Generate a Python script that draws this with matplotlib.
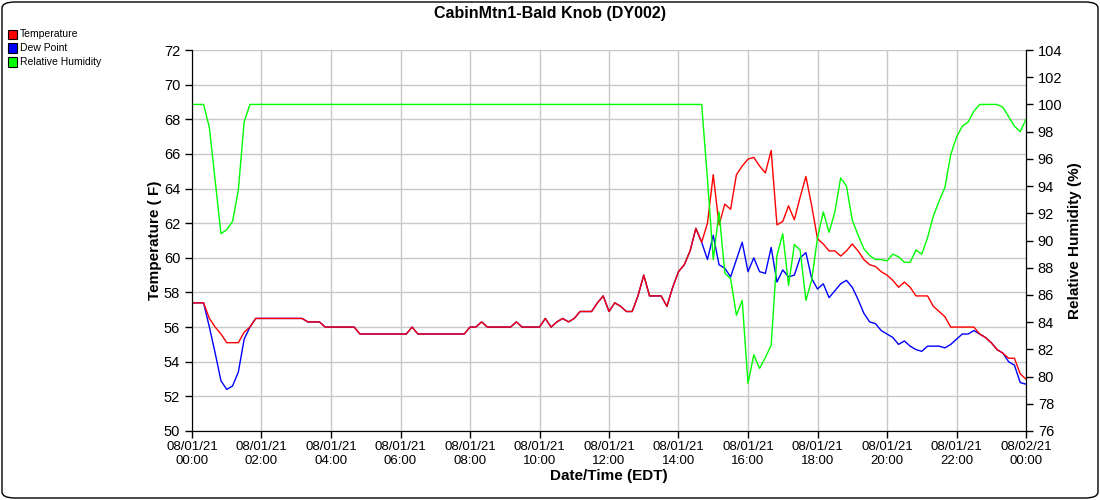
import pandas as pd
import numpy as np
import matplotlib
matplotlib.use("Agg")
import matplotlib.pyplot as plt
import matplotlib.dates as mdates
from matplotlib.patches import FancyBboxPatch, Rectangle

plt.rcParams['font.family'] = ['Liberation Sans', 'DejaVu Sans']

# 10-minute readings, 08/01/21 00:00 -> 08/02/21 00:00 (one row per hour)
times = pd.date_range('2021-08-01 00:00', '2021-08-02 00:00', freq='10min')

temperature = [
    57.4, 57.4, 57.4, 56.5, 56.0, 55.6,
    55.1, 55.1, 55.1, 55.7, 56.0, 56.5,
    56.5, 56.5, 56.5, 56.5, 56.5, 56.5,
    56.5, 56.5, 56.3, 56.3, 56.3, 56.0,
    56.0, 56.0, 56.0, 56.0, 56.0, 55.6,
    55.6, 55.6, 55.6, 55.6, 55.6, 55.6,
    55.6, 55.6, 56.0, 55.6, 55.6, 55.6,
    55.6, 55.6, 55.6, 55.6, 55.6, 55.6,
    56.0, 56.0, 56.3, 56.0, 56.0, 56.0,
    56.0, 56.0, 56.3, 56.0, 56.0, 56.0,
    56.0, 56.5, 56.0, 56.3, 56.5, 56.3,
    56.5, 56.9, 56.9, 56.9, 57.4, 57.8,
    56.9, 57.4, 57.2, 56.9, 56.9, 57.8,
    59.0, 57.8, 57.8, 57.8, 57.2, 58.3,
    59.2, 59.6, 60.4, 61.7, 60.9, 62.0,
    64.8, 61.9, 63.1, 62.8, 64.8, 65.3,
    65.7, 65.8, 65.3, 64.9, 66.2, 61.9,
    62.1, 63.0, 62.2, 63.5, 64.7, 63.0,
    61.1, 60.8, 60.4, 60.4, 60.1, 60.4,
    60.8, 60.4, 59.9, 59.6, 59.5, 59.2,
    59.0, 58.7, 58.3, 58.6, 58.3, 57.8,
    57.8, 57.8, 57.2, 56.9, 56.6, 56.0,
    56.0, 56.0, 56.0, 56.0, 55.6, 55.4,
    55.1, 54.7, 54.5, 54.2, 54.2, 53.3,
    53.0,
]

dew_point = [
    57.4, 57.4, 57.4, 56.0, 54.5, 52.9,
    52.4, 52.6, 53.4, 55.3, 56.0, 56.5,
    56.5, 56.5, 56.5, 56.5, 56.5, 56.5,
    56.5, 56.5, 56.3, 56.3, 56.3, 56.0,
    56.0, 56.0, 56.0, 56.0, 56.0, 55.6,
    55.6, 55.6, 55.6, 55.6, 55.6, 55.6,
    55.6, 55.6, 56.0, 55.6, 55.6, 55.6,
    55.6, 55.6, 55.6, 55.6, 55.6, 55.6,
    56.0, 56.0, 56.3, 56.0, 56.0, 56.0,
    56.0, 56.0, 56.3, 56.0, 56.0, 56.0,
    56.0, 56.5, 56.0, 56.3, 56.5, 56.3,
    56.5, 56.9, 56.9, 56.9, 57.4, 57.8,
    56.9, 57.4, 57.2, 56.9, 56.9, 57.8,
    59.0, 57.8, 57.8, 57.8, 57.2, 58.3,
    59.2, 59.6, 60.4, 61.7, 60.9, 59.9,
    61.3, 59.6, 59.4, 58.9, 59.9, 60.9,
    59.2, 60.0, 59.2, 59.1, 60.6, 58.6,
    59.3, 58.9, 59.0, 60.0, 60.3, 58.8,
    58.2, 58.5, 57.7, 58.1, 58.5, 58.7,
    58.3, 57.6, 56.8, 56.3, 56.2, 55.8,
    55.6, 55.4, 55.0, 55.2, 54.9, 54.7,
    54.6, 54.9, 54.9, 54.9, 54.8, 55.0,
    55.3, 55.6, 55.6, 55.8, 55.6, 55.4,
    55.1, 54.7, 54.5, 54.0, 53.8, 52.8,
    52.7,
]

humidity = [
    100, 100, 100, 98.3, 94.4, 90.5,
    90.8, 91.4, 93.7, 98.7, 100, 100,
    100, 100, 100, 100, 100, 100,
    100, 100, 100, 100, 100, 100,
    100, 100, 100, 100, 100, 100,
    100, 100, 100, 100, 100, 100,
    100, 100, 100, 100, 100, 100,
    100, 100, 100, 100, 100, 100,
    100, 100, 100, 100, 100, 100,
    100, 100, 100, 100, 100, 100,
    100, 100, 100, 100, 100, 100,
    100, 100, 100, 100, 100, 100,
    100, 100, 100, 100, 100, 100,
    100, 100, 100, 100, 100, 100,
    100, 100, 100, 100, 100, 94.5,
    88.6, 92.1, 87.6, 87.2, 84.5, 85.6,
    79.5, 81.6, 80.6, 81.4, 82.3, 88.9,
    90.5, 86.7, 89.7, 89.3, 85.6, 87.1,
    90.2, 92.1, 90.6, 92.1, 94.6, 94.0,
    91.5, 90.4, 89.4, 88.9, 88.6, 88.6,
    88.5, 89.0, 88.8, 88.4, 88.4, 89.3,
    89.0, 90.2, 91.8, 92.9, 93.9, 96.3,
    97.6, 98.4, 98.7, 99.5, 100, 100,
    100, 100, 99.8, 99.1, 98.4, 98.0,
    98.9,
]

series_names = ['Temperature', 'Dew Point', 'Relative Humidity']
series_colors = ['#ff0000', '#0000ff', '#00ff00']

fig = plt.figure(figsize=(11, 5), dpi=100)
ax = fig.add_axes([192 / 1100, 69 / 500, 834 / 1100, 381 / 500])
ax2 = ax.twinx()

ax.plot(times, dew_point, color=series_colors[1], lw=1)
ax.plot(times, temperature, color=series_colors[0], lw=1)
ax2.plot(times, humidity, color=series_colors[2], lw=1)

ax.set_xlim(times[0], times[-1])
ax.set_ylim(50, 72)
ax.set_yticks(np.arange(50, 73, 2))
ax2.set_ylim(76, 104)
ax2.set_yticks(np.arange(76, 105, 2))

ax.xaxis.set_major_locator(mdates.HourLocator(interval=2))
ax.xaxis.set_major_formatter(mdates.DateFormatter('%m/%d/%y\n%H:%M'))

ax.grid(True, color='#c8c8c8', lw=1)
ax.set_axisbelow(True)
for a in (ax, ax2):
    a.spines['top'].set_visible(False)
    a.tick_params(labelsize=10.5, length=5, width=1, color='black')
ax.tick_params(axis='x', labelsize=9.5, pad=2)

ax.set_xlabel('Date/Time (EDT)', fontsize=11, fontweight='bold', labelpad=2)
ax.set_ylabel('Temperature ( F)', fontsize=11, fontweight='bold', labelpad=1)
ax2.set_ylabel('Relative Humidity (%)', fontsize=11, fontweight='bold',
               rotation=90, labelpad=4)

fig.text(0.5, 0.973, 'CabinMtn1-Bald Knob (DY002)', ha='center', va='center',
         fontsize=11.5, fontweight='bold')

# legend in the top-left corner
for k, (name, col) in enumerate(zip(series_names, series_colors)):
    yk = 1 - (34 + 14 * k) / 500
    fig.patches.append(Rectangle((8 / 1100, yk - 4.5 / 500), 9 / 1100, 9 / 500,
                                 transform=fig.transFigure, facecolor=col,
                                 edgecolor='black', lw=0.8))
    fig.text(20 / 1100, yk, name, fontsize=7.5, va='center', ha='left')

# rounded outer frame
fig.patches.append(FancyBboxPatch((2 / 1100, 2 / 500), 1096 / 1100, 496 / 500,
                                  boxstyle='round,pad=0,rounding_size=0.012',
                                  transform=fig.transFigure, facecolor='none',
                                  edgecolor='black', lw=1))

fig.savefig('out.png', dpi=100)
